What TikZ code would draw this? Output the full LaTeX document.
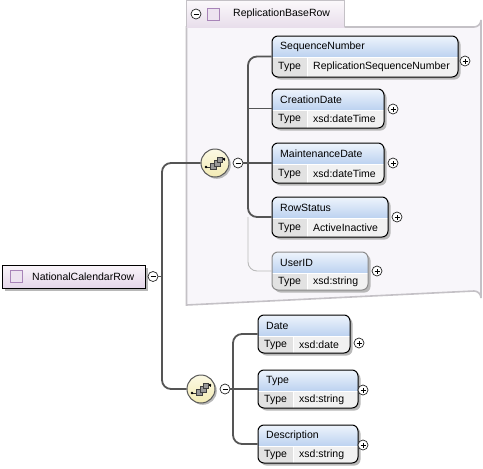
\documentclass[tikz,border=0pt]{standalone}
\usepackage{fontspec}
\setmainfont{Liberation Sans}
\usetikzlibrary{fit}
\definecolor{hdtop}{HTML}{EEF4FC}
\definecolor{hdbot}{HTML}{BCD2F0}
\definecolor{rowc}{HTML}{F1F1F1}
\definecolor{cellc}{HTML}{E2E2E2}
\definecolor{grpfill}{HTML}{F8F6FA}
\definecolor{grpline}{HTML}{C4C1C6}
\definecolor{tabtop}{HTML}{FBF8FB}
\definecolor{tabbot}{HTML}{E8DEEB}
\definecolor{ncrtop}{HTML}{FAF5FA}
\definecolor{ncrbot}{HTML}{E4D6E9}
\definecolor{seqtop}{HTML}{FBF9E4}
\definecolor{seqbot}{HTML}{F3EBB4}
\definecolor{connc}{HTML}{555555}
\definecolor{optc}{HTML}{BBBBBB}
\definecolor{shadowc}{HTML}{B8B8B8}
\definecolor{iconline}{HTML}{A884B8}
\definecolor{iconfill}{HTML}{EDE3F0}
\tikzset{
  conn/.style={draw=connc, line width=1.8pt},
  optconn/.style={draw=optc, line width=0.9pt},
  txt/.style={font=\fontsize{10.5}{12}\selectfont, inner sep=0pt, anchor=west},
  pmcircle/.style={circle, draw=black!85, line width=0.7pt, fill=white, minimum size=10pt, inner sep=0pt},
  seqcircle/.style={circle, draw=black!65, line width=1pt, top color=seqtop, bottom color=seqbot, minimum size=28pt, inner sep=0pt},
}
% element box: #1 border colour, #2 name, #3 x1, #4 y1, #5 x2, #6 y2, #7 title, #8 type
\newcommand\xelem[8][black]{%
  \fill[shadowc, rounded corners=6pt] (#3+2.5,#4+2.5) rectangle (#5+2.5,#6+2.5);
  \begin{scope}
    \clip[rounded corners=6pt] (#3,#4) rectangle (#5,#6);
    \shade[top color=hdtop, bottom color=hdbot] (#3,#4) rectangle (#5,#4+21);
    \fill[rowc] (#3,#4+21) rectangle (#5,#6);
    \fill[cellc] (#3,#4+21) rectangle (#3+35,#6);
    \draw[white, line width=1pt] (#3+35,#4+21) -- (#3+35,#6);
    \draw[white, line width=0.6pt] (#3,#4+21) -- (#5,#4+21);
  \end{scope}
  \node[fit={(#3,#4) (#5,#6)}, inner sep=0pt, draw=#1, line width=1pt, rounded corners=6pt] (#2) {};
  \node[txt] (#2title) at (#3+8,#4+10.5) {#7};
  \node[txt] (#2tlabel) at (#3+6,#4+21+0.5*#6-0.5*#4-10.5) {Type};
  \node[txt] (#2type) at (#3+41,#4+21+0.5*#6-0.5*#4-10.5) {#8};
}
% plus circle
\newcommand\xplus[3]{%
  \node[pmcircle] (#1) at (#2,#3) {};
  \draw[line width=0.7pt] ([xshift=-2.5pt]#1.center) -- ([xshift=2.5pt]#1.center)
    ([yshift=-2.5pt]#1.center) -- ([yshift=2.5pt]#1.center);
}
\newcommand\xminus[3]{%
  \node[pmcircle] (#1) at (#2,#3) {};
  \draw[line width=0.7pt] ([xshift=-2.5pt]#1.center) -- ([xshift=2.5pt]#1.center);
}
% sequence compositor
\newcommand\xseq[3]{%
  \fill[shadowc] (#2+1.8,#3+1.8) circle (14);
  \node[seqcircle] (#1) at (#2,#3) {};
  \begin{scope}[shift={(#2,#3)}]
    \draw[black!80, line width=0.8pt] (-9,4) -- (-4,4) (5,-4) -- (9,-4) -- (9,-2);
    \fill[black] (-9,4) circle (1.4) (9,-4) circle (1.4);
    \filldraw[fill=black!40, draw=black!75, line width=0.6pt] (-5,0) rectangle (1,6);
    \filldraw[fill=black!40, draw=black!75, line width=0.6pt] (-1,-3) rectangle (5,3);
    \filldraw[fill=black!40, draw=black!75, line width=0.6pt] (2,-6) rectangle (7,-1);
  \end{scope}
}
\begin{document}
\begin{tikzpicture}[x=1pt, y=-1pt]
\useasboundingbox (0,0) rectangle (483,469);
\fill[white] (0,0) rectangle (483,469);

% ---- group ReplicationBaseRow ----
\fill[grpfill] (186.5,27) -- (474,27) arc[start angle=90, end angle=0, radius=7] -- (481,298) arc[start angle=0, end angle=-90, radius=7] -- (186.5,305) -- cycle;
\draw[grpline, line width=1.6pt] (186.5,27) -- (474,27) arc[start angle=90, end angle=0, radius=7] -- (481,298) arc[start angle=0, end angle=-90, radius=7] -- (186.5,305) -- cycle;
\shade[top color=tabtop, bottom color=tabbot] (186.5,0.8) rectangle (344.5,27);
\draw[grpline, line width=1.2pt] (186.5,27) -- (186.5,0.8) -- (344.5,0.8) -- (344.5,27);
\xminus{gm}{196}{14}
\node[draw=iconline, fill=iconfill, line width=0.8pt, minimum size=12pt, inner sep=0pt] (gicon) at (213,14) {};
\node[txt] (gname) at (233,14) {ReplicationBaseRow};

% ---- root element ----
\fill[shadowc] (5,268) rectangle (148,291);
\shade[top color=ncrtop, bottom color=ncrbot] (2,265) rectangle (145,288);
\node[fit={(2,265) (145,288)}, inner sep=0pt, draw=black, line width=1pt] (ncr) {};
\node[draw=iconline, fill=iconfill, line width=0.8pt, minimum size=12pt, inner sep=0pt] (ncricon) at (16,276.5) {};
\node[txt] (ncrname) at (32,276.5) {NationalCalendarRow};
\xminus{m0}{153}{276.5}

% ---- compositors ----
\xseq{seqa}{215}{163}
\xminus{m1}{238}{163}
\xseq{seqb}{201}{389}
\xminus{m2}{225}{389}

% ---- elements ----
\xelem{seqnum}{272}{36}{458}{77}{SequenceNumber}{ReplicationSequenceNumber}
\xelem{creation}{272}{89}{384}{128}{CreationDate}{xsd:dateTime}
\xelem{maint}{272}{143}{384}{183}{MaintenanceDate}{xsd:dateTime}
\xelem{rowstatus}{272}{197}{388}{237}{RowStatus}{ActiveInactive}
\xelem[black!45]{userid}{272}{252}{368}{290}{UserID}{xsd:string}
\xelem{date}{258}{315}{350}{353}{Date}{xsd:date}
\xelem{typeel}{258}{370}{358}{408}{Type}{xsd:string}
\xelem{desc}{258}{425}{358}{463}{Description}{xsd:string}

\xplus{pa}{465}{61}
\xplus{pb}{393}{109}
\xplus{pc}{393}{163}
\xplus{pd}{397}{217}
\xplus{pe}{377}{271}
\xplus{pf}{359}{343}
\xplus{pg}{363}{390}
\xplus{ph}{363}{445}

% ---- connectors ----
\coordinate (tr0) at (162,276.5);
\coordinate (tr1) at (248,163);
\coordinate (tr2) at (233,389);

\draw[conn] (m0.east) -- (tr0);
\draw[conn, rounded corners=9pt] (seqa.west) -| (tr0) |- (seqb.west);

\draw[optconn, rounded corners=9pt] (rowstatus.west -| tr1) |- (userid.west);
\draw[conn] (m1.east) -- (tr1);
\draw[conn, rounded corners=9pt] (seqnum.west) -| (tr1) |- (rowstatus.west);
\draw[conn] (creation.west -| tr1) -- (creation.west);
\draw[conn] (maint.west -| tr1) -- (maint.west);

\draw[conn] (m2.east) -- (tr2);
\draw[conn, rounded corners=9pt] (date.west) -| (tr2) |- (desc.west);
\draw[conn] (typeel.west -| tr2) -- (typeel.west);
\end{tikzpicture}
\end{document}
